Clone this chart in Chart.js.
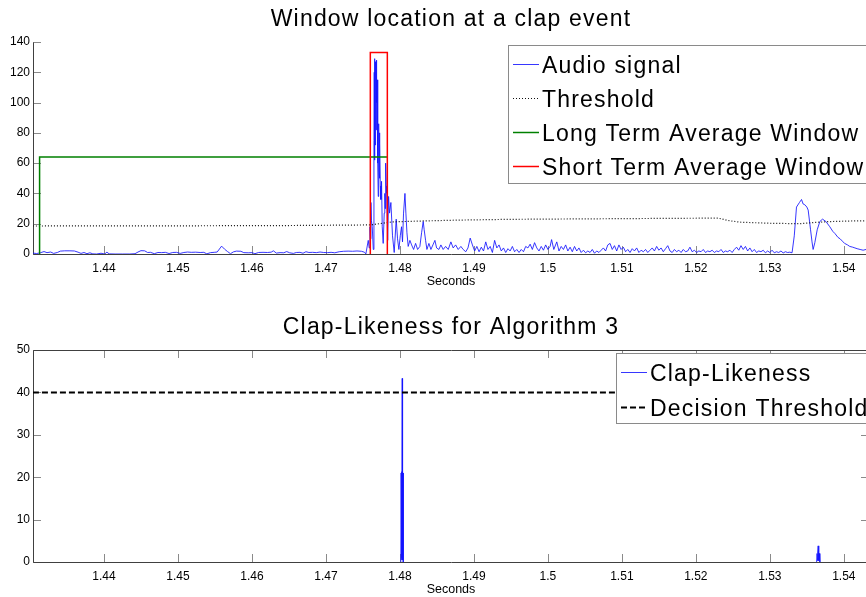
<!DOCTYPE html>
<html>
<head>
<meta charset="utf-8">
<script src="https://cdn.jsdelivr.net/npm/chart.js@4"></script>
<style>
  html, body { margin: 0; padding: 0; overflow: hidden; background: #fff; }
  canvas { display: block; }
</style>
</head>
<body>
<canvas id="top" width="880" height="300"></canvas>
<canvas id="bottom" width="880" height="297"></canvas>
<script>
// Axis ticks
const xTicks = [1.44, 1.45, 1.46, 1.47, 1.48, 1.49, 1.5, 1.51, 1.52, 1.53, 1.54];
const audioTicksY = [0, 20, 40, 60, 80, 100, 120, 140];
const clapTicksY = [0, 10, 20, 30, 40, 50];
const xRange = [1.43041, 1.5434];

// Top plot series, [seconds, value]
const audioSignal = [
  [1.4304,0.6],[1.4309,0.3],[1.4314,0.8],[1.4319,1.6],[1.4323,0.9],[1.4328,1.3],[1.4332,0.4],[1.4337,1.0],
  [1.4341,1.9],[1.4347,2.1],[1.4354,2.1],[1.4360,2.0],[1.4365,1.2],[1.4369,0.4],[1.4373,1.0],[1.4377,0.2],
  [1.4381,0.8],[1.4385,0.1],[1.4390,0.0],[1.4396,0.5],[1.4401,0.0],[1.4404,1.2],[1.4407,0.1],[1.4415,0.0],
  [1.4425,0.0],[1.4435,0.0],[1.4442,0.2],[1.4446,1.3],[1.4450,2.2],[1.4455,2.1],[1.4459,1.0],[1.4463,1.1],
  [1.4468,0.2],[1.4473,1.0],[1.4478,0.9],[1.4483,1.1],[1.4488,0.3],[1.4493,1.0],[1.4498,1.1],[1.4503,0.4],
  [1.4508,1.0],[1.4513,1.3],[1.4518,1.1],[1.4524,1.2],[1.4530,1.0],[1.4535,1.1],[1.4539,0.1],[1.4544,0.9],
  [1.4549,1.1],[1.4553,1.3],[1.4559,5.2],[1.4563,3.2],[1.4567,1.6],[1.4571,0.2],[1.4575,1.4],[1.4579,1.9],
  [1.4585,1.8],[1.4589,0.9],[1.4595,0.8],[1.4600,0.9],[1.4604,0.2],[1.4609,1.0],[1.4615,1.1],[1.4621,1.0],
  [1.4626,1.2],[1.4629,2.1],[1.4633,0.6],[1.4638,0.9],[1.4643,0.8],[1.4647,1.6],[1.4651,0.8],[1.4656,0.4],
  [1.4660,1.0],[1.4665,1.1],[1.4669,0.5],[1.4673,1.5],[1.4677,1.0],[1.4682,1.1],[1.4687,0.9],[1.4692,1.3],
  [1.4697,1.0],[1.4702,0.9],[1.4707,1.1],[1.4712,0.8],[1.4718,1.5],[1.4724,1.8],[1.4730,1.9],[1.4736,1.8],
  [1.4742,2.0],[1.4748,1.8],[1.4752,1.2],[1.4754,0.1],
  [1.47572,9],[1.47585,4],[1.47595,18],[1.47602,10],[1.47608,34],[1.47615,22],[1.47626,18],[1.4764,3],
  [1.47649,75],[1.47653,120],[1.47656,62],[1.47659,126],[1.47662,129],[1.47665,72],[1.47668,124],
  [1.47671,90],[1.47674,127],[1.47677,82],[1.4768,125],[1.47683,96],[1.47686,128],[1.47689,100],
  [1.47692,115],[1.47698,97],[1.47702,60],[1.47707,38],[1.4771,70],[1.47713,50],[1.47716,86],
  [1.47719,55],[1.47722,80],[1.47726,50],[1.4773,73],[1.47735,45],[1.47743,36],[1.47752,48],[1.47761,18],
  [1.47774,7],[1.47788,27],[1.47796,40],[1.47801,30],[1.47807,60],[1.47815,45],[1.47822,40],[1.47835,9],
  [1.47847,38],[1.4786,27],[1.47878,34],[1.479,12],
  [1.47923,1],[1.4795,23],[1.47968,10],[1.47986,3],[1.48005,12],[1.48022,18],[1.48035,8],[1.48049,27],
  [1.48068,40],[1.48081,27],[1.48095,14],[1.48112,5],[1.48135,9],[1.48158,6],[1.48185,3],[1.48212,7],
  [1.48239,3],[1.4827,5],[1.48293,14],[1.48315,21.5],[1.48328,16],[1.48347,9],[1.48365,3],[1.48392,7],
  [1.48419,3],[1.48446,6],[1.48473,9],[1.48496,4],[1.48527,3],[1.48554,6],[1.48585,3],[1.48618,5],
  [1.48653,3],[1.48689,8],[1.4872,4],[1.48753,6],[1.48788,3],[1.48824,5],[1.48855,3],
  [1.4889,1.5],[1.4892,4],[1.4895,10.5],[1.4898,6],[1.4901,2],[1.4904,5],[1.4907,1.5],[1.4910,4.5],
  [1.4913,2],[1.4916,8],[1.4919,3],[1.4922,5],[1.4925,1],[1.4928,9],[1.4931,4],[1.4934,6],[1.4937,2],
  [1.4940,4],[1.4943,1],[1.4946,3.5],[1.4949,2],[1.4952,5],[1.4955,1.5],[1.4958,3],[1.4961,1],
  [1.4964,3],[1.4967,1.5],[1.4970,5],[1.4973,4],[1.4976,6.5],[1.4979,3],[1.4982,7.5],[1.4985,4],
  [1.4988,2],[1.4991,5],[1.4994,2.5],[1.4997,6],[1.5000,3],[1.5003,5],[1.5005,9.5],[1.5008,3],
  [1.5012,8],[1.5015,2],[1.5018,5],[1.5021,3],[1.5024,6],[1.5027,2],[1.5030,4.5],[1.5033,1.5],
  [1.5036,5],[1.5039,2],[1.5042,4],[1.5045,1],[1.5048,2.5],[1.5051,0.8],[1.5054,2],[1.5057,1],
  [1.5060,3],[1.5063,0.5],[1.5066,2],[1.5069,1],[1.5072,2.5],[1.5075,4],[1.5078,2],[1.5081,6],
  [1.5084,7],[1.5087,3],[1.5090,5.5],[1.5093,2],[1.5096,6],[1.5099,3],[1.5102,4.5],[1.5105,1.5],
  [1.5108,3],[1.5111,1],[1.5114,3.5],[1.5117,2],[1.5120,4],[1.5123,1],[1.5126,2.5],[1.5129,1.5],
  [1.5132,3],[1.5135,1],[1.5138,2.5],[1.5141,4],[1.5144,2],[1.5147,5],[1.5150,2.5],[1.5153,4],
  [1.5156,1.5],[1.5159,3.5],[1.5162,5.5],[1.5165,2],[1.5168,1],[1.5171,3],[1.5174,1.5],[1.5177,2.5],
  [1.5180,1],[1.5183,3],[1.5186,1.5],[1.5189,2],[1.5192,4.5],[1.5195,1.5],[1.5198,2.5],[1.5201,1],
  [1.5204,2],[1.5207,1.5],[1.5210,3],[1.5213,1],[1.5216,2],[1.5219,1.5],[1.5222,2.5],[1.5225,1],
  [1.5228,2],[1.5231,1.5],[1.5234,3],[1.5237,1],[1.5240,2],[1.5243,1.5],[1.5246,2.5],[1.5249,1],
  [1.5252,3],[1.5255,4.5],[1.5258,2.5],[1.5261,5.5],[1.5264,3],[1.5267,5],[1.5270,2],[1.5273,4],
  [1.5276,1.5],[1.5279,3],[1.5282,1],[1.5285,2],[1.5288,1.5],[1.5291,2.5],[1.5294,0.8],[1.5297,2],
  [1.5300,1],[1.5303,2.5],[1.5306,0.8],[1.5309,1.5],[1.5312,1],[1.5315,2],[1.5318,0.7],[1.5321,1.5],
  [1.5324,1],[1.5327,1.2],[1.5330,0.8],
  [1.5333,12],[1.5336,31],[1.5340,34],[1.53428,36],[1.5345,33],[1.53473,32.5],[1.5350,31],[1.53518,29],
  [1.5355,16],[1.5357,8],[1.53585,3],[1.53608,7.5],[1.5364,16],[1.53676,21.5],[1.53712,23],[1.53757,21.5],
  [1.5381,18],[1.5385,15],[1.5388,13.5],[1.5392,11],[1.5395,10],[1.5398,8.5],[1.5401,7],[1.5405,6],
  [1.5408,5],[1.5412,4.5],[1.5415,4],[1.5418,3.5],[1.5422,3],[1.5426,2.5],[1.5430,3],[1.5433,2.5],[1.5436,2.8]
];
const threshold = [
  [1.4304,18.5],[1.4500,18.6],[1.4650,18.8],[1.4760,19.2],[1.4790,21.2],[1.4830,21.8],[1.4880,22.4],
  [1.4950,22.9],[1.5050,23.2],[1.5150,23.5],[1.5230,23.7],[1.5245,22.0],[1.5260,21.0],[1.5300,20.3],
  [1.5340,20.0],[1.5360,20.8],[1.5380,21.4],[1.5410,21.8],[1.5436,22.0]
];
const longWindow = [[1.4313,0],[1.4313,64],[1.4783,64]];
const shortWindow = [[1.4760,0],[1.4760,133],[1.4783,133],[1.4783,0]];

// Bottom plot series
const clapLikeness = [
  [1.48012,0],[1.48016,21],[1.4802,0.5],[1.48024,21.3],[1.48028,1],[1.48031,43.3],[1.48034,21],
  [1.48038,0.5],[1.48042,21],[1.48045,0],
  null,
  [1.53632,0],[1.53638,2],[1.53643,0.3],[1.53648,2.1],[1.53653,3.8],[1.53658,2],[1.53664,0.3],
  [1.5367,2],[1.53676,0]
];
const decisionThreshold = [[1.4304,40],[1.5436,40]];

const FONT = '"Liberation Sans", Arial, Helvetica, sans-serif';

function toPoints(pairs) {
  return pairs.map(p => p ? { x: p[0], y: p[1] } : { x: null, y: null });
}

// Axes drawn matlab-style: ticks pointing inward
const frame = {
  id: 'frame',
  beforeDatasetsDraw(chart, args, opts) {
    const { ctx, chartArea: a, scales: { x, y } } = chart;
    ctx.save();
    ctx.lineWidth = 1;
    ctx.strokeStyle = '#8a8a8a';
    ctx.beginPath();
    x.ticks.forEach(t => {
      const px = Math.round(x.getPixelForValue(t.value)) + 0.5;
      ctx.moveTo(px, a.bottom);
      ctx.lineTo(px, a.bottom - 8);
      if (opts.box) {
        ctx.moveTo(px, a.top);
        ctx.lineTo(px, a.top + 8);
      }
    });
    y.ticks.forEach(t => {
      const py = Math.round(y.getPixelForValue(t.value)) + 0.5;
      ctx.moveTo(a.left, py);
      ctx.lineTo(a.left + 8, py);
      if (opts.box) {
        ctx.moveTo(a.right, py);
        ctx.lineTo(a.right - 8, py);
      }
    });
    ctx.stroke();

    ctx.strokeStyle = '#404040';
    ctx.beginPath();
    const l = Math.round(a.left) + 0.5, b = Math.round(a.bottom) + 0.5;
    const tp = Math.round(a.top) + 0.5, r = Math.round(a.right) + 0.5;
    ctx.moveTo(l, tp);
    ctx.lineTo(l, b);
    ctx.lineTo(r, b);
    if (opts.box) {
      ctx.lineTo(r, tp);
      ctx.lineTo(l, tp);
    }
    ctx.stroke();
    ctx.restore();
  },
  afterDraw(chart, args, opts) {
    const { ctx, chartArea: a } = chart;
    ctx.save();
    ctx.letterSpacing = '1.2px';
    ctx.font = '23px ' + FONT;
    ctx.fillStyle = '#000';
    ctx.textAlign = 'center';
    ctx.textBaseline = 'alphabetic';
    ctx.fillText(opts.title, (a.left + a.right) / 2, opts.titleY);

    // legend box
    const lg = opts.legend;
    ctx.fillStyle = '#fff';
    ctx.fillRect(lg.left, lg.top, chart.width - lg.left + 5, lg.bottom - lg.top);
    ctx.strokeStyle = '#8a8a8a';
    ctx.lineWidth = 1;
    ctx.strokeRect(lg.left + 0.5, lg.top + 0.5, chart.width, lg.bottom - lg.top);
    ctx.textAlign = 'left';
    lg.items.forEach((idx, i) => {
      const ds = chart.data.datasets[idx];
      const base = lg.firstBaseline + i * lg.step;
      const ly = Math.round(base - 9) + 0.5;
      ctx.save();
      ctx.strokeStyle = ds.borderColor;
      ctx.lineWidth = ds.borderWidth;
      ctx.setLineDash(ds.borderDash || []);
      ctx.beginPath();
      ctx.moveTo(lg.left + 5, ly);
      ctx.lineTo(lg.left + 31, ly);
      ctx.stroke();
      ctx.restore();
      ctx.fillStyle = '#000';
      ctx.fillText(ds.label, lg.left + 34, base);
    });
    ctx.restore();
  }
};

function xScale(height) {
  return {
    type: 'linear',
    min: xRange[0],
    max: xRange[1],
    grid: { display: false, drawTicks: false },
    border: { display: false },
    afterBuildTicks: s => { s.ticks = xTicks.map(v => ({ value: v })); },
    afterFit: s => { s.height = height; },
    ticks: {
      autoSkip: false,
      maxRotation: 0,
      padding: 7,
      color: '#000',
      font: { family: FONT, size: 12 },
      callback: v => String(+v.toFixed(2))
    }
  };
}

function yScale(max, tickList) {
  return {
    min: 0,
    max: max,
    grid: { display: false, drawTicks: false },
    border: { display: false },
    afterBuildTicks: s => { s.ticks = tickList.map(v => ({ value: v })); },
    afterFit: s => { s.width = 33; },
    ticks: {
      padding: 3,
      color: '#000',
      font: { family: FONT, size: 12 },
      callback: v => String(v)
    }
  };
}

const topChart = new Chart(document.getElementById('top'), {
  type: 'line',
  plugins: [frame],
  data: {
    datasets: [
      { label: 'Audio signal', data: toPoints(audioSignal), borderColor: 'rgba(20,20,255,0.85)', borderWidth: 1, order: 3 },
      { label: 'Threshold', data: toPoints(threshold), borderColor: '#111', borderWidth: 1.2, borderDash: [1, 2], order: 2 },
      { label: 'Long Term Average Window', data: toPoints(longWindow), borderColor: 'rgb(0,128,0)', borderWidth: 1.5, order: 1 },
      { label: 'Short Term Average Window', data: toPoints(shortWindow), borderColor: 'rgb(255,0,0)', borderWidth: 1.5, order: 0 }
    ]
  },
  options: {
    responsive: false,
    animation: false,
    devicePixelRatio: 1,
    layout: { padding: { top: 42, right: 11, bottom: 0, left: 0 } },
    elements: { point: { radius: 0 }, line: { tension: 0 } },
    scales: {
      x: Object.assign(xScale(46), {
        title: { display: true, text: 'Seconds', color: '#000', font: { family: FONT, size: 12.5 }, padding: { top: 0, bottom: 11 } }
      }),
      y: yScale(140, audioTicksY)
    },
    plugins: {
      legend: { display: false },
      tooltip: { enabled: false },
      frame: {
        title: 'Window location at a clap event',
        titleY: 26,
        box: false,
        legend: { left: 508, top: 45, bottom: 183, firstBaseline: 73, step: 34, items: [0, 1, 2, 3] }
      }
    }
  }
});

const bottomChart = new Chart(document.getElementById('bottom'), {
  type: 'line',
  plugins: [frame],
  data: {
    datasets: [
      { label: 'Clap-Likeness', data: toPoints(clapLikeness), borderColor: 'rgba(20,20,255,0.85)', borderWidth: 1, spanGaps: false, order: 1 },
      { label: 'Decision Threshold', data: toPoints(decisionThreshold), borderColor: '#000', borderWidth: 2, borderDash: [6, 3], order: 0 }
    ]
  },
  options: {
    responsive: false,
    animation: false,
    devicePixelRatio: 1,
    layout: { padding: { top: 50, right: 11, bottom: 0, left: 0 } },
    elements: { point: { radius: 0 }, line: { tension: 0 } },
    scales: {
      x: Object.assign(xScale(35), {
        title: { display: true, text: 'Seconds', color: '#000', font: { family: FONT, size: 12.5 }, padding: { top: 0, bottom: 0 } }
      }),
      y: yScale(50, clapTicksY)
    },
    plugins: {
      legend: { display: false },
      tooltip: { enabled: false },
      frame: {
        title: 'Clap-Likeness for Algorithm 3',
        titleY: 34,
        box: true,
        legend: { left: 616, top: 53, bottom: 123, firstBaseline: 81, step: 35, items: [0, 1] }
      }
    }
  }
});
</script>
</body>
</html>
